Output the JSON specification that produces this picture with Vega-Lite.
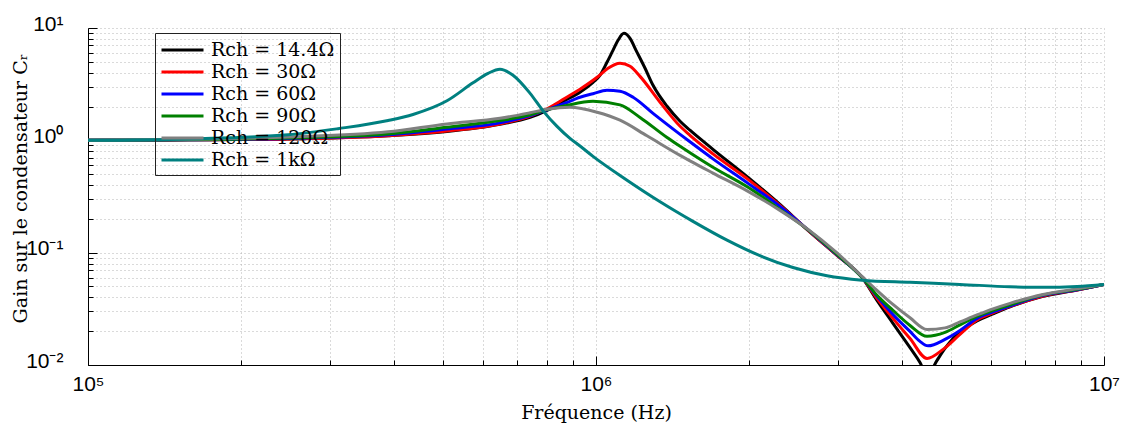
{
  "$schema": "https://vega.github.io/schema/vega-lite/v6.json",
  "width": 1016,
  "height": 337,
  "autosize": {"type": "none"},
  "padding": {"left": 88, "top": 28, "right": 24, "bottom": 63},
  "background": "white",
  "config": {
    "view": {"stroke": null},
    "axis": {
      "domainColor": "black",
      "domainWidth": 1,
      "tickColor": "black",
      "tickWidth": 1,
      "grid": true,
      "gridColor": "#b4b4b4",
      "gridDash": [1, 3],
      "gridWidth": 1,
      "labelFont": "Liberation Sans",
      "labelFontSize": 21,
      "labelColor": "black",
      "labelFlush": false,
      "labelOverlap": false,
      "titleFont": "DejaVu Serif",
      "titleFontSize": 19,
      "titleFontWeight": "normal",
      "titleColor": "black"
    }
  },
  "data": {
    "values": [
      {"R": "Rch = 14.4Ω", "f": 100000, "g": 1.0},
      {"R": "Rch = 14.4Ω", "f": 157400, "g": 1.01},
      {"R": "Rch = 14.4Ω", "f": 247600, "g": 1.03},
      {"R": "Rch = 14.4Ω", "f": 389600, "g": 1.10},
      {"R": "Rch = 14.4Ω", "f": 508900, "g": 1.20},
      {"R": "Rch = 14.4Ω", "f": 647100, "g": 1.39},
      {"R": "Rch = 14.4Ω", "f": 741800, "g": 1.60},
      {"R": "Rch = 14.4Ω", "f": 801000, "g": 1.85},
      {"R": "Rch = 14.4Ω", "f": 869000, "g": 2.27},
      {"R": "Rch = 14.4Ω", "f": 930100, "g": 2.68},
      {"R": "Rch = 14.4Ω", "f": 986500, "g": 3.28},
      {"R": "Rch = 14.4Ω", "f": 1018000, "g": 3.79},
      {"R": "Rch = 14.4Ω", "f": 1051000, "g": 4.95},
      {"R": "Rch = 14.4Ω", "f": 1080000, "g": 6.33},
      {"R": "Rch = 14.4Ω", "f": 1105000, "g": 7.77},
      {"R": "Rch = 14.4Ω", "f": 1135000, "g": 8.97},
      {"R": "Rch = 14.4Ω", "f": 1167000, "g": 8.09},
      {"R": "Rch = 14.4Ω", "f": 1199000, "g": 6.33},
      {"R": "Rch = 14.4Ω", "f": 1249000, "g": 4.38},
      {"R": "Rch = 14.4Ω", "f": 1295000, "g": 3.09},
      {"R": "Rch = 14.4Ω", "f": 1380000, "g": 2.01},
      {"R": "Rch = 14.4Ω", "f": 1464000, "g": 1.48},
      {"R": "Rch = 14.4Ω", "f": 1531000, "g": 1.23},
      {"R": "Rch = 14.4Ω", "f": 1699000, "g": 0.832},
      {"R": "Rch = 14.4Ω", "f": 1992000, "g": 0.468},
      {"R": "Rch = 14.4Ω", "f": 2302000, "g": 0.269},
      {"R": "Rch = 14.4Ω", "f": 2615000, "g": 0.158},
      {"R": "Rch = 14.4Ω", "f": 2982000, "g": 0.0946},
      {"R": "Rch = 14.4Ω", "f": 3339000, "g": 0.0603},
      {"R": "Rch = 14.4Ω", "f": 3574000, "g": 0.0376},
      {"R": "Rch = 14.4Ω", "f": 3842000, "g": 0.0235},
      {"R": "Rch = 14.4Ω", "f": 4151000, "g": 0.0143},
      {"R": "Rch = 14.4Ω", "f": 4343000, "g": 0.01055},
      {"R": "Rch = 14.4Ω", "f": 4484000, "g": 0.0080},
      {"R": "Rch = 14.4Ω", "f": 4692000, "g": 0.0110},
      {"R": "Rch = 14.4Ω", "f": 4864000, "g": 0.01405},
      {"R": "Rch = 14.4Ω", "f": 5044000, "g": 0.01725},
      {"R": "Rch = 14.4Ω", "f": 5326000, "g": 0.02118},
      {"R": "Rch = 14.4Ω", "f": 5623000, "g": 0.0247},
      {"R": "Rch = 14.4Ω", "f": 6046000, "g": 0.0285},
      {"R": "Rch = 14.4Ω", "f": 6531000, "g": 0.0329},
      {"R": "Rch = 14.4Ω", "f": 7586000, "g": 0.0408},
      {"R": "Rch = 14.4Ω", "f": 8851000, "g": 0.0466},
      {"R": "Rch = 14.4Ω", "f": 10000000, "g": 0.0522},

      {"R": "Rch = 30Ω", "f": 100000, "g": 1.0},
      {"R": "Rch = 30Ω", "f": 157400, "g": 1.01},
      {"R": "Rch = 30Ω", "f": 247600, "g": 1.03},
      {"R": "Rch = 30Ω", "f": 389600, "g": 1.10},
      {"R": "Rch = 30Ω", "f": 508900, "g": 1.21},
      {"R": "Rch = 30Ω", "f": 647100, "g": 1.40},
      {"R": "Rch = 30Ω", "f": 741800, "g": 1.64},
      {"R": "Rch = 30Ω", "f": 801000, "g": 1.91},
      {"R": "Rch = 30Ω", "f": 869000, "g": 2.37},
      {"R": "Rch = 30Ω", "f": 930100, "g": 2.85},
      {"R": "Rch = 30Ω", "f": 1005000, "g": 3.64},
      {"R": "Rch = 30Ω", "f": 1056000, "g": 4.38},
      {"R": "Rch = 30Ω", "f": 1115000, "g": 4.85},
      {"R": "Rch = 30Ω", "f": 1167000, "g": 4.56},
      {"R": "Rch = 30Ω", "f": 1221000, "g": 3.71},
      {"R": "Rch = 30Ω", "f": 1337000, "g": 2.18},
      {"R": "Rch = 30Ω", "f": 1464000, "g": 1.333},
      {"R": "Rch = 30Ω", "f": 1531000, "g": 1.108},
      {"R": "Rch = 30Ω", "f": 1699000, "g": 0.758},
      {"R": "Rch = 30Ω", "f": 1992000, "g": 0.4495},
      {"R": "Rch = 30Ω", "f": 2302000, "g": 0.264},
      {"R": "Rch = 30Ω", "f": 2615000, "g": 0.158},
      {"R": "Rch = 30Ω", "f": 2982000, "g": 0.0946},
      {"R": "Rch = 30Ω", "f": 3339000, "g": 0.0603},
      {"R": "Rch = 30Ω", "f": 3574000, "g": 0.0392},
      {"R": "Rch = 30Ω", "f": 3842000, "g": 0.0260},
      {"R": "Rch = 30Ω", "f": 4151000, "g": 0.0172},
      {"R": "Rch = 30Ω", "f": 4484000, "g": 0.01145},
      {"R": "Rch = 30Ω", "f": 4821000, "g": 0.01377},
      {"R": "Rch = 30Ω", "f": 5206000, "g": 0.01873},
      {"R": "Rch = 30Ω", "f": 5623000, "g": 0.0252},
      {"R": "Rch = 30Ω", "f": 6046000, "g": 0.0291},
      {"R": "Rch = 30Ω", "f": 6531000, "g": 0.0332},
      {"R": "Rch = 30Ω", "f": 7586000, "g": 0.0412},
      {"R": "Rch = 30Ω", "f": 8851000, "g": 0.0466},
      {"R": "Rch = 30Ω", "f": 10000000, "g": 0.0522},

      {"R": "Rch = 60Ω", "f": 100000, "g": 1.0},
      {"R": "Rch = 60Ω", "f": 157400, "g": 1.01},
      {"R": "Rch = 60Ω", "f": 247600, "g": 1.04},
      {"R": "Rch = 60Ω", "f": 389600, "g": 1.12},
      {"R": "Rch = 60Ω", "f": 508900, "g": 1.26},
      {"R": "Rch = 60Ω", "f": 647100, "g": 1.43},
      {"R": "Rch = 60Ω", "f": 741800, "g": 1.66},
      {"R": "Rch = 60Ω", "f": 801000, "g": 1.87},
      {"R": "Rch = 60Ω", "f": 869000, "g": 2.14},
      {"R": "Rch = 60Ω", "f": 930100, "g": 2.42},
      {"R": "Rch = 60Ω", "f": 986500, "g": 2.60},
      {"R": "Rch = 60Ω", "f": 1051000, "g": 2.79},
      {"R": "Rch = 60Ω", "f": 1115000, "g": 2.73},
      {"R": "Rch = 60Ω", "f": 1183000, "g": 2.42},
      {"R": "Rch = 60Ω", "f": 1295000, "g": 1.74},
      {"R": "Rch = 60Ω", "f": 1464000, "g": 1.131},
      {"R": "Rch = 60Ω", "f": 1531000, "g": 0.970},
      {"R": "Rch = 60Ω", "f": 1699000, "g": 0.684},
      {"R": "Rch = 60Ω", "f": 1992000, "g": 0.414},
      {"R": "Rch = 60Ω", "f": 2302000, "g": 0.258},
      {"R": "Rch = 60Ω", "f": 2615000, "g": 0.1596},
      {"R": "Rch = 60Ω", "f": 2982000, "g": 0.0956},
      {"R": "Rch = 60Ω", "f": 3339000, "g": 0.0603},
      {"R": "Rch = 60Ω", "f": 3574000, "g": 0.0408},
      {"R": "Rch = 60Ω", "f": 3842000, "g": 0.0282},
      {"R": "Rch = 60Ω", "f": 4151000, "g": 0.0199},
      {"R": "Rch = 60Ω", "f": 4343000, "g": 0.01623},
      {"R": "Rch = 60Ω", "f": 4504000, "g": 0.0148},
      {"R": "Rch = 60Ω", "f": 4864000, "g": 0.0169},
      {"R": "Rch = 60Ω", "f": 5206000, "g": 0.0203},
      {"R": "Rch = 60Ω", "f": 5623000, "g": 0.0260},
      {"R": "Rch = 60Ω", "f": 6046000, "g": 0.0297},
      {"R": "Rch = 60Ω", "f": 6531000, "g": 0.0336},
      {"R": "Rch = 60Ω", "f": 7586000, "g": 0.0417},
      {"R": "Rch = 60Ω", "f": 8851000, "g": 0.0468},
      {"R": "Rch = 60Ω", "f": 10000000, "g": 0.0522},

      {"R": "Rch = 90Ω", "f": 100000, "g": 1.0},
      {"R": "Rch = 90Ω", "f": 157400, "g": 1.01},
      {"R": "Rch = 90Ω", "f": 247600, "g": 1.05},
      {"R": "Rch = 90Ω", "f": 389600, "g": 1.14},
      {"R": "Rch = 90Ω", "f": 508900, "g": 1.31},
      {"R": "Rch = 90Ω", "f": 647100, "g": 1.50},
      {"R": "Rch = 90Ω", "f": 741800, "g": 1.69},
      {"R": "Rch = 90Ω", "f": 801000, "g": 1.88},
      {"R": "Rch = 90Ω", "f": 861000, "g": 2.01},
      {"R": "Rch = 90Ω", "f": 986500, "g": 2.23},
      {"R": "Rch = 90Ω", "f": 1115000, "g": 2.07},
      {"R": "Rch = 90Ω", "f": 1221000, "g": 1.60},
      {"R": "Rch = 90Ω", "f": 1380000, "g": 1.06},
      {"R": "Rch = 90Ω", "f": 1464000, "g": 0.884},
      {"R": "Rch = 90Ω", "f": 1531000, "g": 0.774},
      {"R": "Rch = 90Ω", "f": 1699000, "g": 0.575},
      {"R": "Rch = 90Ω", "f": 1992000, "g": 0.3816},
      {"R": "Rch = 90Ω", "f": 2302000, "g": 0.243},
      {"R": "Rch = 90Ω", "f": 2615000, "g": 0.1596},
      {"R": "Rch = 90Ω", "f": 2982000, "g": 0.0966},
      {"R": "Rch = 90Ω", "f": 3339000, "g": 0.0603},
      {"R": "Rch = 90Ω", "f": 3574000, "g": 0.0417},
      {"R": "Rch = 90Ω", "f": 3842000, "g": 0.0306},
      {"R": "Rch = 90Ω", "f": 4151000, "g": 0.0225},
      {"R": "Rch = 90Ω", "f": 4484000, "g": 0.0180},
      {"R": "Rch = 90Ω", "f": 4864000, "g": 0.0195},
      {"R": "Rch = 90Ω", "f": 5206000, "g": 0.02275},
      {"R": "Rch = 90Ω", "f": 5623000, "g": 0.0271},
      {"R": "Rch = 90Ω", "f": 6046000, "g": 0.0306},
      {"R": "Rch = 90Ω", "f": 6531000, "g": 0.0343},
      {"R": "Rch = 90Ω", "f": 7586000, "g": 0.0421},
      {"R": "Rch = 90Ω", "f": 8851000, "g": 0.0471},
      {"R": "Rch = 90Ω", "f": 10000000, "g": 0.0522},

      {"R": "Rch = 120Ω", "f": 100000, "g": 1.0},
      {"R": "Rch = 120Ω", "f": 157400, "g": 1.02},
      {"R": "Rch = 120Ω", "f": 247600, "g": 1.07},
      {"R": "Rch = 120Ω", "f": 389600, "g": 1.19},
      {"R": "Rch = 120Ω", "f": 508900, "g": 1.40},
      {"R": "Rch = 120Ω", "f": 647100, "g": 1.57},
      {"R": "Rch = 120Ω", "f": 741800, "g": 1.76},
      {"R": "Rch = 120Ω", "f": 801000, "g": 1.89},
      {"R": "Rch = 120Ω", "f": 888800, "g": 1.97},
      {"R": "Rch = 120Ω", "f": 1005000, "g": 1.78},
      {"R": "Rch = 120Ω", "f": 1115000, "g": 1.51},
      {"R": "Rch = 120Ω", "f": 1260000, "g": 1.097},
      {"R": "Rch = 120Ω", "f": 1464000, "g": 0.735},
      {"R": "Rch = 120Ω", "f": 1531000, "g": 0.657},
      {"R": "Rch = 120Ω", "f": 1699000, "g": 0.5114},
      {"R": "Rch = 120Ω", "f": 1992000, "g": 0.3514},
      {"R": "Rch = 120Ω", "f": 2302000, "g": 0.238},
      {"R": "Rch = 120Ω", "f": 2615000, "g": 0.1612},
      {"R": "Rch = 120Ω", "f": 2982000, "g": 0.0994},
      {"R": "Rch = 120Ω", "f": 3339000, "g": 0.0615},
      {"R": "Rch = 120Ω", "f": 3574000, "g": 0.0462},
      {"R": "Rch = 120Ω", "f": 3842000, "g": 0.0346},
      {"R": "Rch = 120Ω", "f": 4151000, "g": 0.0263},
      {"R": "Rch = 120Ω", "f": 4484000, "g": 0.0207},
      {"R": "Rch = 120Ω", "f": 4864000, "g": 0.0214},
      {"R": "Rch = 120Ω", "f": 5206000, "g": 0.0242},
      {"R": "Rch = 120Ω", "f": 5623000, "g": 0.0279},
      {"R": "Rch = 120Ω", "f": 6046000, "g": 0.0316},
      {"R": "Rch = 120Ω", "f": 6531000, "g": 0.0354},
      {"R": "Rch = 120Ω", "f": 7586000, "g": 0.0425},
      {"R": "Rch = 120Ω", "f": 8851000, "g": 0.0476},
      {"R": "Rch = 120Ω", "f": 10000000, "g": 0.0522},

      {"R": "Rch = 1kΩ", "f": 100000, "g": 1.0},
      {"R": "Rch = 1kΩ", "f": 157400, "g": 1.03},
      {"R": "Rch = 1kΩ", "f": 247600, "g": 1.12},
      {"R": "Rch = 1kΩ", "f": 310500, "g": 1.27},
      {"R": "Rch = 1kΩ", "f": 389600, "g": 1.50},
      {"R": "Rch = 1kΩ", "f": 436300, "g": 1.70},
      {"R": "Rch = 1kΩ", "f": 508900, "g": 2.25},
      {"R": "Rch = 1kΩ", "f": 572600, "g": 3.25},
      {"R": "Rch = 1kΩ", "f": 613100, "g": 3.95},
      {"R": "Rch = 1kΩ", "f": 647100, "g": 4.30},
      {"R": "Rch = 1kΩ", "f": 686500, "g": 3.80},
      {"R": "Rch = 1kΩ", "f": 741800, "g": 2.62},
      {"R": "Rch = 1kΩ", "f": 786700, "g": 1.83},
      {"R": "Rch = 1kΩ", "f": 838100, "g": 1.33},
      {"R": "Rch = 1kΩ", "f": 888800, "g": 1.04},
      {"R": "Rch = 1kΩ", "f": 930100, "g": 0.89},
      {"R": "Rch = 1kΩ", "f": 986500, "g": 0.72},
      {"R": "Rch = 1kΩ", "f": 1151000, "g": 0.442},
      {"R": "Rch = 1kΩ", "f": 1337000, "g": 0.284},
      {"R": "Rch = 1kΩ", "f": 1552000, "g": 0.190},
      {"R": "Rch = 1kΩ", "f": 1811000, "g": 0.1292},
      {"R": "Rch = 1kΩ", "f": 2102000, "g": 0.094},
      {"R": "Rch = 1kΩ", "f": 2442000, "g": 0.0737},
      {"R": "Rch = 1kΩ", "f": 2849000, "g": 0.0623},
      {"R": "Rch = 1kΩ", "f": 3339000, "g": 0.0569},
      {"R": "Rch = 1kΩ", "f": 4151000, "g": 0.0544},
      {"R": "Rch = 1kΩ", "f": 5206000, "g": 0.0522},
      {"R": "Rch = 1kΩ", "f": 6531000, "g": 0.0497},
      {"R": "Rch = 1kΩ", "f": 7586000, "g": 0.0491},
      {"R": "Rch = 1kΩ", "f": 8851000, "g": 0.0501},
      {"R": "Rch = 1kΩ", "f": 10000000, "g": 0.0522}
    ]
  },
  "mark": {"type": "line", "strokeWidth": 3, "clip": true, "interpolate": "monotone"},
  "encoding": {
    "x": {
      "field": "f",
      "type": "quantitative",
      "scale": {"type": "log", "domain": [100000, 10000000]},
      "axis": {
        "title": "Fréquence (Hz)",
        "values": [100000, 200000, 300000, 400000, 500000, 600000, 700000, 800000, 900000, 1000000, 2000000, 3000000, 4000000, 5000000, 6000000, 7000000, 8000000, 9000000, 10000000],
        "labelExpr": "datum.value == 100000 ? '10⁵' : datum.value == 1000000 ? '10⁶' : datum.value == 10000000 ? '10⁷' : ''",
        "tickSize": {"condition": {"test": "datum.value == 100000 || datum.value == 1000000 || datum.value == 10000000", "value": -9}, "value": -5},
        "labelPadding": 17,
        "titleY": 47,
        "titleBaseline": "middle"
      }
    },
    "y": {
      "field": "g",
      "type": "quantitative",
      "scale": {"type": "log", "domain": [0.01, 10]},
      "axis": {
        "title": "Gain sur le condensateur Cᵣ",
        "values": [0.01, 0.02, 0.03, 0.04, 0.05, 0.06, 0.07, 0.08, 0.09, 0.1, 0.2, 0.3, 0.4, 0.5, 0.6, 0.7, 0.8, 0.9, 1, 2, 3, 4, 5, 6, 7, 8, 9, 10],
        "labelExpr": "datum.value == 10 ? '10¹' : datum.value == 1 ? '10⁰' : datum.value == 0.1 ? '10⁻¹' : datum.value == 0.01 ? '10⁻²' : ''",
        "tickSize": {"condition": {"test": "datum.value == 10 || datum.value == 1 || datum.value == 0.1 || datum.value == 0.01", "value": -9}, "value": -5},
        "labelPadding": 34,
        "labelOffset": -4,
        "titleX": -68,
        "titleY": 160,
        "titleBaseline": "middle"
      }
    },
    "color": {
      "field": "R",
      "type": "nominal",
      "scale": {
        "domain": ["Rch = 14.4Ω", "Rch = 30Ω", "Rch = 60Ω", "Rch = 90Ω", "Rch = 120Ω", "Rch = 1kΩ"],
        "range": ["#000000", "#ff0000", "#0000ff", "#008000", "#808080", "#008080"]
      },
      "legend": {
        "orient": "none",
        "legendX": 67,
        "legendY": 5,
        "title": null,
        "symbolType": "M-1,0H3",
        "symbolSize": 441,
        "symbolStrokeWidth": 3,
        "labelFont": "DejaVu Serif",
        "labelFontSize": 19,
        "labelColor": "black",
        "labelOffset": 27,
        "fillColor": null,
        "strokeColor": "#222222",
        "padding": 5,
        "rowPadding": 0
      }
    }
  }
}
